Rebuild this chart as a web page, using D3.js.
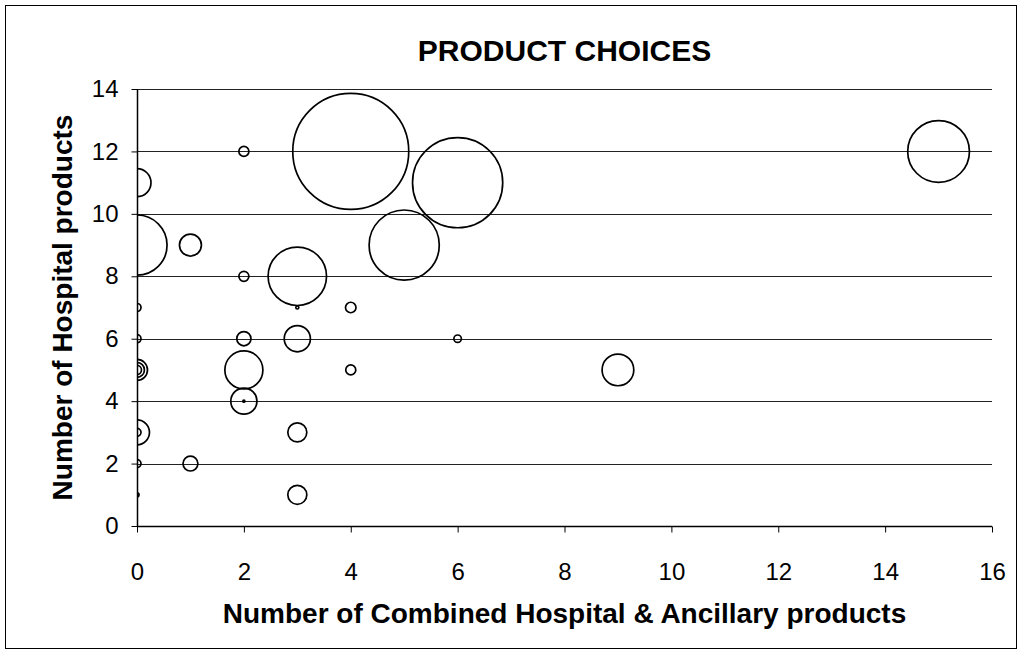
<!DOCTYPE html>
<html>
<head>
<meta charset="utf-8">
<script src="https://cdn.jsdelivr.net/npm/d3@7"></script>
<style>
  html, body { margin: 0; padding: 0; background: #fff; }
  svg { display: block; font-family: "Liberation Sans", Arial, sans-serif; }
</style>
</head>
<body>
<svg id="chart" width="1023" height="655"></svg>
<script>
// Combined Hospital & Ancillary product counts (x), Hospital product counts (y), bubble size
const combinedProducts = [4, 6, 5, 15, 0, 3, 2, 9, 0, 2, 3, 0, 1, 0, 3, 3, 1, 2, 0, 0, 4, 4, 2, 2, 0, 0, 0, 0, 6, 0, 3, 2];
const hospitalProducts = [12, 11, 9, 12, 9, 8, 5, 5, 11, 4, 6, 3, 9, 5, 3, 1, 2, 6, 5, 5, 7, 5, 12, 8, 7, 6, 2, 3, 6, 1, 7, 4];
const bubbleSizes      = [134, 81, 49, 38, 36, 34, 14.4, 10, 7.8, 6.8, 6.8, 6.2, 4.8, 4.4, 3.6, 3.6, 2.2, 2, 2.2, 0.8, 1.1, 1, 1, 1, 0.64, 0.64, 0.64, 0.64, 0.55, 0.16, 0.09, 0.04];

const xTicks = [0, 2, 4, 6, 8, 10, 12, 14, 16];
const yTicks = [0, 2, 4, 6, 8, 10, 12, 14];

const titleText = "PRODUCT CHOICES";
const xTitle = "Number of Combined Hospital & Ancillary products";
const yTitle = "Number of Hospital products";

const plot = { left: 137, right: 992, top: 89, bottom: 526 };
const fontFamily = '"Liberation Sans", Arial, sans-serif';

const svg = d3.select("#chart");

// chart frame
svg.append("rect")
  .attr("x", 5.5).attr("y", 5.5)
  .attr("width", 1011).attr("height", 643)
  .attr("fill", "#fff").attr("stroke", "#000").attr("stroke-width", 1);

const x = d3.scaleLinear().domain([0, 16]).range([plot.left, plot.right]);
const y = d3.scaleLinear().domain([0, 14]).range([plot.bottom, plot.top]);
const r = d3.scaleSqrt().domain([0, d3.max(bubbleSizes)]).range([0, 58]);

// horizontal gridlines
svg.append("g")
  .selectAll("line")
  .data(yTicks.filter(t => t > 0))
  .join("line")
  .attr("x1", plot.left).attr("x2", plot.right)
  .attr("y1", d => Math.round(y(d)) + 0.5).attr("y2", d => Math.round(y(d)) + 0.5)
  .attr("stroke", "#222").attr("stroke-width", 1);

// axes
const xAxis = svg.append("g")
  .attr("transform", `translate(0,${Math.round(plot.bottom) + 0.5})`)
  .call(d3.axisBottom(x).tickValues(xTicks).tickSize(6).tickPadding(30).tickFormat(d3.format("d")));
const yAxis = svg.append("g")
  .attr("transform", `translate(${Math.round(plot.left) + 0.5},0)`)
  .call(d3.axisLeft(y).tickValues(yTicks).tickSize(6).tickPadding(13).tickFormat(d3.format("d")));

[xAxis, yAxis].forEach(g => {
  g.select(".domain").attr("stroke", "#000").attr("stroke-width", 1.5);
  g.selectAll(".tick line").attr("stroke", "#000");
  g.selectAll(".tick text")
    .attr("fill", "#000")
    .style("font-family", fontFamily)
    .style("font-size", "24px");
});
xAxis.select(".domain").attr("d", `M${plot.left},0H${plot.right}`);
yAxis.select(".domain").attr("d", `M0,${plot.bottom}V${plot.top}`);

// bubbles, clipped to the plot area
svg.append("clipPath").attr("id", "plotClip")
  .append("rect")
  .attr("x", plot.left).attr("y", plot.top)
  .attr("width", plot.right - plot.left).attr("height", plot.bottom - plot.top);

const points = combinedProducts.map((cx, i) => ({ cx, cy: hospitalProducts[i], s: bubbleSizes[i] }));

svg.append("g")
  .attr("clip-path", "url(#plotClip)")
  .selectAll("circle")
  .data(points)
  .join("circle")
  .attr("cx", d => x(d.cx))
  .attr("cy", d => y(d.cy))
  .attr("r", d => r(d.s))
  .attr("fill", "none")
  .attr("stroke", "#000")
  .attr("stroke-width", 1.7);

// titles
svg.append("text")
  .attr("x", (plot.left + plot.right) / 2).attr("y", 61)
  .attr("text-anchor", "middle")
  .style("font-weight", "bold").style("font-size", "30px")
  .text(titleText);

svg.append("text")
  .attr("x", (plot.left + plot.right) / 2).attr("y", 623)
  .attr("text-anchor", "middle")
  .style("font-weight", "bold").style("font-size", "28px")
  .text(xTitle);

svg.append("text")
  .attr("transform", `translate(72,${(plot.top + plot.bottom) / 2}) rotate(-90)`)
  .attr("text-anchor", "middle")
  .style("font-weight", "bold").style("font-size", "28px")
  .text(yTitle);
</script>
</body>
</html>
